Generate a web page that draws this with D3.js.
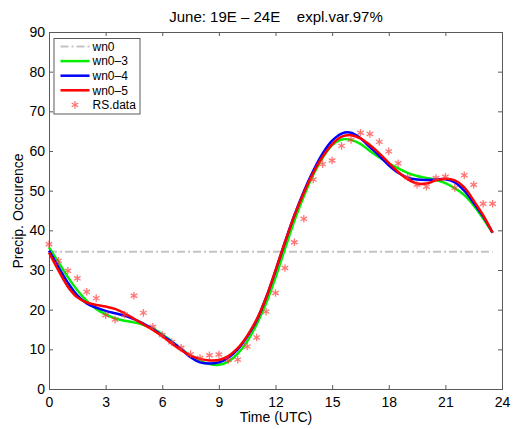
<!DOCTYPE html>
<html>
<head>
<meta charset="utf-8">
<script src="https://cdn.jsdelivr.net/npm/d3@7"></script>
<style>
  body { margin: 0; background: #fff; }
  text { font-family: "Liberation Sans", Arial, sans-serif; fill: #000; }
</style>
</head>
<body>
<script>
var w = 513;
var h = 429;

// half-hourly time steps (UTC)
var hours = [0, 0.5, 1, 1.5, 2, 2.5, 3, 3.5, 4, 4.5, 5, 5.5, 6, 6.5, 7, 7.5, 8, 8.5, 9, 9.5,
  10, 10.5, 11, 11.5, 12, 12.5, 13, 13.5, 14, 14.5, 15, 15.5, 16, 16.5, 17, 17.5, 18, 18.5, 19, 19.5,
  20, 20.5, 21, 21.5, 22, 22.5, 23, 23.5];

var rsData = [36.5, 32.3, 29.8, 27.9, 24.5, 22.9, 18.6, 17.5, 18.8, 23.5, 19.2, 15.7, 13.6, 11.8, 10.4, 8.8,
  7.8, 8.5, 8.7, 7.3, 7.4, 10.7, 13.0, 19.5, 24.2, 30.5, 37.0, 42.9, 52.8, 56.7, 57.6, 61.3,
  62.8, 64.6, 64.3, 62.3, 59.9, 56.9, 53.4, 51.5, 51.0, 53.2, 53.5, 50.7, 53.9, 51.5, 46.7, 46.7];

var wn0Hours = [0, 23.5];
var wn0 = [34.6, 34.6];

var wn03 = [35.7, 32.0, 28.2, 24.9, 22.2, 20.2, 18.8, 17.8, 17.2, 16.8, 16.2, 15.2, 13.8, 12.0, 10.1, 8.4,
  7.1, 6.3, 6.1, 6.9, 8.9, 12.0, 16.3, 21.6, 28.1, 35.3, 42.4, 48.6, 54.0, 58.3, 61.5, 62.9,
  62.8, 61.8, 60.0, 58.4, 56.9, 55.6, 54.5, 53.7, 53.2, 52.7, 51.9, 50.6, 48.9, 46.3, 43.0, 39.4];

var wn04 = [34.9, 30.8, 26.8, 23.6, 21.6, 20.5, 19.7, 19.1, 18.5, 17.6, 16.5, 15.1, 13.5, 11.9, 10.1, 8.0,
  6.7, 6.4, 6.7, 7.9, 10.0, 13.2, 17.3, 23.0, 29.8, 37.0, 43.8, 49.8, 55.0, 59.4, 62.6, 64.4,
  64.6, 63.2, 61.0, 58.8, 56.4, 54.5, 53.3, 52.8, 52.7, 52.8, 52.9, 52.1, 50.0, 46.9, 43.5, 39.4];

var wn05 = [34.4, 29.9, 25.8, 23.1, 21.8, 21.2, 20.8, 20.2, 19.1, 17.7, 16.3, 14.9, 13.3, 11.5, 9.8, 8.4,
  7.6, 7.2, 7.3, 8.3, 10.3, 13.4, 17.5, 23.0, 29.9, 37.0, 43.7, 49.5, 54.5, 58.6, 61.7, 63.6,
  64.0, 63.2, 61.5, 59.4, 57.0, 54.7, 52.9, 51.8, 51.8, 52.6, 53.0, 52.6, 50.8, 47.5, 43.8, 39.4];

var xTicks = [0, 3, 6, 9, 12, 15, 18, 21, 24];
var yTicks = [0, 10, 20, 30, 40, 50, 60, 70, 80, 90];

// plot box (window.top is reserved, so use own names)
var boxL = 49, boxR = 502, boxT = 32, boxB = 389;

var x = d3.scaleLinear().domain([0, 24]).range([boxL, boxR]);
var y = d3.scaleLinear().domain([0, 90]).range([boxB, boxT]);

var svg = d3.select('body')
  .append('svg')
  .attr('width', w)
  .attr('height', h);

// title
svg.append('text')
  .attr('x', 276)
  .attr('y', 22)
  .attr('text-anchor', 'middle')
  .attr('font-size', '15px')
  .style('white-space', 'pre')
  .text('June: 19E \u2013 24E    expl.var.97%');

// axes with inner ticks on all four sides
var axisColor = '#5a5a5a';
svg.append('g')
  .attr('transform', 'translate(0,' + boxB + ')')
  .call(d3.axisBottom(x).tickValues(xTicks).tickSize(-4).tickPadding(8).tickFormat(d3.format('d')));
svg.append('g')
  .attr('transform', 'translate(0,' + boxT + ')')
  .call(d3.axisTop(x).tickValues(xTicks).tickSize(-4).tickFormat(''));
svg.append('g')
  .attr('transform', 'translate(' + boxL + ',0)')
  .call(d3.axisLeft(y).tickValues(yTicks).tickSize(-4).tickPadding(4).tickFormat(d3.format('d')));
svg.append('g')
  .attr('transform', 'translate(' + boxR + ',0)')
  .call(d3.axisRight(y).tickValues(yTicks).tickSize(-4).tickFormat(''));

svg.selectAll('.domain').attr('stroke', axisColor);
svg.selectAll('.tick line').attr('stroke', axisColor);
svg.selectAll('.tick text')
  .attr('font-size', '14px')
  .attr('font-family', '"Liberation Sans", Arial, sans-serif')
  .attr('fill', '#000');

// axis labels
svg.append('text')
  .attr('x', 276)
  .attr('y', 422)
  .attr('text-anchor', 'middle')
  .attr('font-size', '14px')
  .text('Time (UTC)');

svg.append('text')
  .attr('transform', 'translate(23,211) rotate(-90)')
  .attr('text-anchor', 'middle')
  .attr('font-size', '14px')
  .text('Precip. Occurence');

// lines
var line = d3.line()
  .x(function(d) { return x(d[0]); })
  .y(function(d) { return y(d[1]); })
  .curve(d3.curveCatmullRom);

svg.append('path')
  .datum(d3.zip(wn0Hours, wn0))
  .attr('d', line)
  .attr('fill', 'none')
  .attr('stroke', '#c4c4c4')
  .attr('stroke-width', 2)
  .attr('stroke-dasharray', '8,3,2,3');

var series = [
  { name: 'wn0\u20133', values: wn03, color: '#00ee00' },
  { name: 'wn0\u20134', values: wn04, color: '#0000ff' },
  { name: 'wn0\u20135', values: wn05, color: '#ff0000' }
];

series.forEach(function(s) {
  svg.append('path')
    .datum(d3.zip(hours, s.values))
    .attr('d', line)
    .attr('fill', 'none')
    .attr('stroke', s.color)
    .attr('stroke-width', 2.5)
    .attr('stroke-linejoin', 'round');
});

// RS data as asterisks
var star = d3.symbol().type(d3.symbolAsterisk).size(40);
svg.selectAll('path.rs')
  .data(d3.zip(hours, rsData))
  .enter()
  .append('path')
  .attr('class', 'rs')
  .attr('d', star)
  .attr('transform', function(d) { return 'translate(' + x(d[0]) + ',' + y(d[1]) + ')'; })
  .attr('fill', 'none')
  .attr('stroke', '#ff3b3b')
  .attr('stroke-width', 1.3)
  .attr('opacity', 0.7);

// legend
var lg = svg.append('g');
lg.append('rect')
  .attr('x', 54)
  .attr('y', 38.5)
  .attr('width', 86)
  .attr('height', 75.5)
  .attr('fill', '#fff')
  .attr('stroke', axisColor);

var legendItems = [
  { name: 'wn0', color: '#c4c4c4', dash: '8,3,2,3' },
  { name: 'wn0\u20133', color: '#00ee00' },
  { name: 'wn0\u20134', color: '#0000ff' },
  { name: 'wn0\u20135', color: '#ff0000' },
  { name: 'RS.data', color: '#ff3b3b', marker: true }
];

legendItems.forEach(function(d, i) {
  var ly = 46.5 + i * 14.6;
  if (d.marker) {
    lg.append('path')
      .attr('d', star)
      .attr('transform', 'translate(75,' + ly + ')')
      .attr('fill', 'none')
      .attr('stroke', d.color)
      .attr('stroke-width', 1.3)
      .attr('opacity', 0.7);
  } else {
    lg.append('line')
      .attr('x1', 60.5)
      .attr('x2', 89.5)
      .attr('y1', ly)
      .attr('y2', ly)
      .attr('stroke', d.color)
      .attr('stroke-width', d.dash ? 2 : 2.5)
      .attr('stroke-dasharray', d.dash || null);
  }
  lg.append('text')
    .attr('x', 92.5)
    .attr('y', ly + 4.3)
    .attr('font-size', '12px')
    .text(d.name);
});
</script>
</body>
</html>
